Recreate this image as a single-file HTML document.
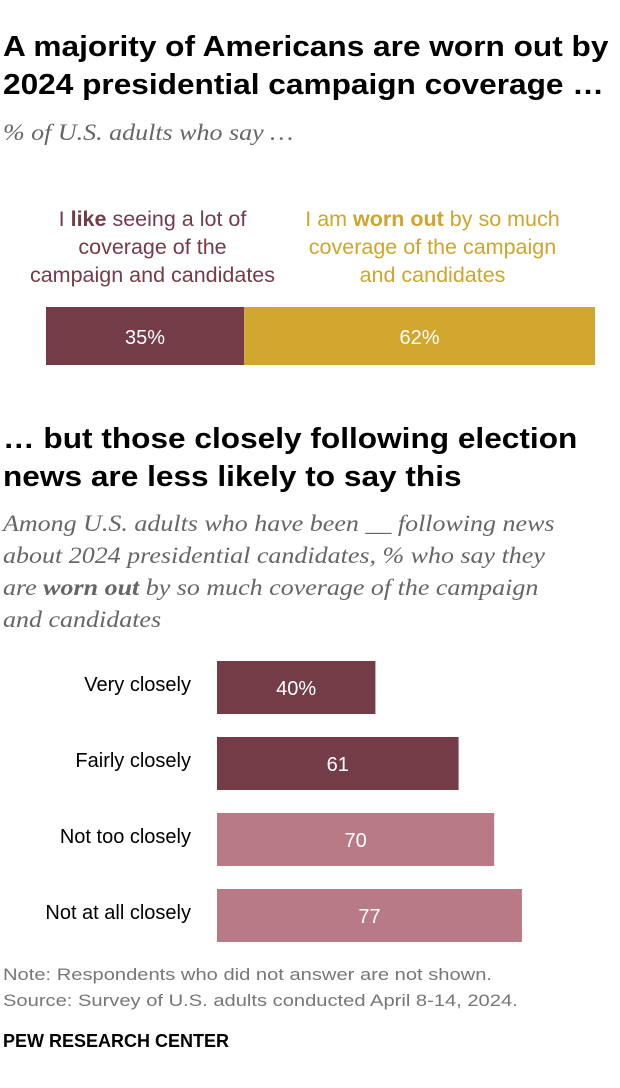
<!DOCTYPE html>
<html><head><meta charset="utf-8"><style>
body{margin:0;width:620px;height:1088px;background:#fff;position:relative;overflow:hidden;font-family:"Liberation Sans",sans-serif}
.a{position:absolute}
.t{font-weight:bold;font-size:29px;line-height:38px;color:#000;left:3px;white-space:nowrap;transform:scaleX(1.09);transform-origin:0 0}
.s{font-family:"Liberation Serif",serif;font-style:italic;color:#666;font-size:23px;line-height:32px;left:3px;white-space:nowrap;transform:scaleX(1.13);transform-origin:0 0}
</style></head><body>
<div class="a t" style="top:28px">A majority of Americans are worn out by<br>2024 presidential campaign coverage …</div>
<div class="a s" style="top:117px">% of U.S. adults who say …</div>
<div class="a" style="left:-10px;width:325px;top:205px;text-align:center;color:#733c47;font-size:21.5px;line-height:28px">I <b>like</b> seeing a lot of<br>coverage of the<br>campaign and candidates</div>
<div class="a" style="left:280px;width:305px;top:205px;text-align:center;color:#cfa52e;font-size:21.5px;line-height:28px">I am <b>worn out</b> by so much<br>coverage of the campaign<br>and candidates</div>
<svg class="a" id="svgTop" style="left:0;top:0" width="620" height="400"></svg>
<div class="a t" style="top:420px">… but those closely following election<br>news are less likely to say this</div>
<div class="a s" style="top:508px">Among U.S. adults who have been __ following news<br>about 2024 presidential candidates, % who say they<br>are <b>worn out</b> by so much coverage of the campaign<br>and candidates</div>
<svg class="a" id="svgBot" style="left:0;top:640px" width="620" height="320"></svg>
<div class="a" style="left:3px;top:962px;color:#777;font-size:16.5px;line-height:26px;white-space:nowrap;transform:scaleX(1.22);transform-origin:0 0">Note: Respondents who did not answer are not shown.<br>Source: Survey of U.S. adults conducted April 8-14, 2024.</div>
<div class="a" style="left:3px;top:1031px;font-weight:bold;font-size:18px;color:#000">PEW RESEARCH CENTER</div>
<script>
const topCats=["like","worn out"];
const topVals=[35,62];
const topColors=["#733c47","#d1a730"];
const cats=["Very closely","Fairly closely","Not too closely","Not at all closely"];
const vals=[40,61,70,77];
const valLabels=["40%","61","70","77"];
const barColors=["#733c47","#733c47","#b87b85","#b87b85"];
const NS="http://www.w3.org/2000/svg";
function mk(p,t,a){const e=document.createElementNS(NS,t);for(const k in a)e.setAttribute(k,a[k]);p.appendChild(e);return e;}
const svgTop=document.getElementById('svgTop');
const tx=v=>v*5.66;
let x0=46;
topVals.forEach((v,i)=>{
 const r=mk(svgTop,'rect',{x:x0,y:307,width:tx(v),height:58,fill:topColors[i]});
 
 
 const t=mk(svgTop,'text',{x:x0+tx(v)/2,y:344,'text-anchor':'middle',fill:'#fff','font-size':20,'font-family':'Liberation Sans, sans-serif'});
 t.textContent=v+'%';
 
 
 x0+=tx(v);
});
const svgBot=document.getElementById('svgBot');
const bx=v=>v*3.96;
cats.forEach((c,i)=>{
 const y=21+i*76;
 const r=mk(svgBot,'rect',{x:217,y:y,width:bx(vals[i]),height:53,fill:barColors[i]});
 
 
 const t=mk(svgBot,'text',{x:217+bx(vals[i])/2,y:y+34,'text-anchor':'middle',fill:'#fff','font-size':20,'font-family':'Liberation Sans, sans-serif'});
 t.textContent=valLabels[i];
 
 
 const l=mk(svgBot,'text',{x:191,y:y+30,'text-anchor':'end',fill:'#000','font-size':20,'font-family':'Liberation Sans, sans-serif'});
 l.textContent=c;
 
 
});
</script>
</body></html>
